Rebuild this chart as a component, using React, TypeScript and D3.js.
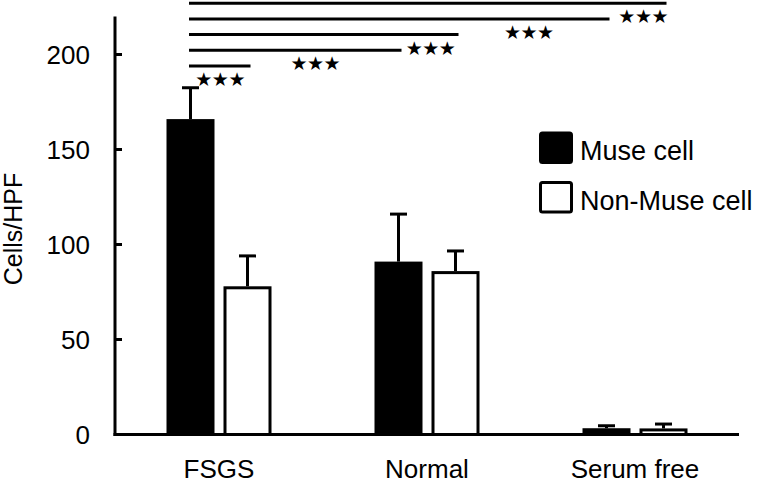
import React from "react";
import * as d3 from "d3";

const categories = ["FSGS", "Normal", "Serum free"];
const seriesNames = ["Muse cell", "Non-Muse cell"];
const museValues = [166, 91, 3.3];
const museErrors = [16.5, 25, 1.3];
const nonMuseValues = [78, 86, 3.2];
const nonMuseErrors = [16, 10.6, 2.3];
const yTicks = [0, 50, 100, 150, 200];
const yLabel = "Cells/HPF";
// significance comparisons: from FSGS Muse to target [categoryIndex, seriesIndex]
const sigTargets: [number, number][] = [
  [0, 1],
  [1, 0],
  [1, 1],
  [2, 0],
  [2, 1],
];
const sigLevels = [194, 202.3, 210.5, 218.7, 227];
const sigStarFrac = [0.52, 0.6, 0.906, 0.813, 0.957];
const sigLabels = ["***", "***", "***", "***", "***"];

const W = 761;
const H = 485;
const FONT = "'Liberation Sans', Arial, Helvetica, sans-serif";

export default function App() {
  const x = d3.scaleBand<string>().domain(categories).range([115, 739]).padding(0);
  const y = d3.scaleLinear().domain([0, 220]).range([434.5, 16.5]);
  const barW = 48;
  const gap = 9;
  const series = [
    { name: seriesNames[0], values: museValues, errors: museErrors, fill: "#000" },
    { name: seriesNames[1], values: nonMuseValues, errors: nonMuseErrors, fill: "#fff" },
  ];
  const barLeft = (ci: number, si: number) => {
    const c = (x(categories[ci]) as number) + x.bandwidth() / 2;
    return si === 0 ? c - gap / 2 - barW : c + gap / 2;
  };
  const barCenter = (ci: number, si: number) => barLeft(ci, si) + barW / 2;
  const sw = 3;
  const capW = 17;

  const startX = barCenter(0, 0);

  return (
    <svg
      width={W}
      height={H}
      style={{ position: "absolute", left: 0, top: 0, background: "#fff" }}
      fontFamily={FONT}
    >
      <rect x={0} y={0} width={W} height={H} fill="#fff" />
      {/* bars */}
      {series.map((s, si) =>
        categories.map((c, ci) => {
          const left = barLeft(ci, si);
          const top = y(s.values[ci]);
          const errTop = y(s.values[ci] + s.errors[ci]);
          const cx = left + barW / 2;
          return (
            <g key={`${si}-${ci}`}>
              <line x1={cx} x2={cx} y1={top} y2={errTop} stroke="#000" strokeWidth={sw} />
              <line
                x1={cx - capW / 2}
                x2={cx + capW / 2}
                y1={errTop}
                y2={errTop}
                stroke="#000"
                strokeWidth={sw}
              />
              <rect
                x={left + sw / 2}
                y={top + sw / 2}
                width={barW - sw}
                height={Math.max(0, y(0) - top - sw / 2)}
                fill={s.fill}
                stroke="#000"
                strokeWidth={sw}
              />
            </g>
          );
        })
      )}
      {/* axes */}
      <line x1={115} x2={115} y1={y(220)} y2={y(0) + 1.5} stroke="#000" strokeWidth={sw} />
      <line x1={113.5} x2={739} y1={y(0)} y2={y(0)} stroke="#000" strokeWidth={sw} />
      {yTicks.map((t) => (
        <g key={t}>
          <line x1={115} x2={122} y1={y(t)} y2={y(t)} stroke="#000" strokeWidth={sw} />
          <text
            x={90}
            y={y(t)}
            dy="0.35em"
            textAnchor="end"
            fontSize={26}
            fill="#000"
          >
            {t}
          </text>
        </g>
      ))}
      <text
        transform={`translate(22, 229) rotate(-90)`}
        textAnchor="middle"
        fontSize={25}
        fill="#000"
      >
        {yLabel}
      </text>
      {categories.map((c) => (
        <text
          key={c}
          x={(x(c) as number) + x.bandwidth() / 2}
          y={478}
          textAnchor="middle"
          fontSize={26}
          fill="#000"
        >
          {c}
        </text>
      ))}
      {/* significance */}
      {sigTargets.map(([ci, si], i) => {
        const endX = barCenter(ci, si);
        const ly = y(sigLevels[i]);
        const sx = startX + (endX - startX) * sigStarFrac[i];
        return (
          <g key={i}>
            <line x1={startX - 1.5} x2={endX + 3} y1={ly} y2={ly} stroke="#000" strokeWidth={sw} />
            <text
              x={sx}
              y={ly + 20}
              textAnchor="middle"
              fontSize={19}
              fontFamily="'DejaVu Sans', sans-serif"
              letterSpacing={-0.5}
              fill="#000"
            >
              {sigLabels[i].replace(/\*/g, "\u2605")}
            </text>
          </g>
        );
      })}
      {/* legend */}
      {series.map((s, i) => (
        <g key={s.name} transform={`translate(539, ${131.5 + i * 49.5})`}>
          <rect
            x={sw / 2}
            y={sw / 2}
            width={34 - sw}
            height={32.5 - sw}
            rx={2}
            fill={s.fill}
            stroke="#000"
            strokeWidth={sw}
          />
          <text x={41} y={28.5} fontSize={27} fill="#000">
            {s.name}
          </text>
        </g>
      ))}
    </svg>
  );
}
